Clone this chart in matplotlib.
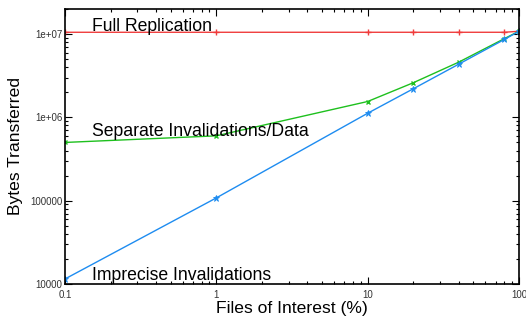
import matplotlib
matplotlib.use("Agg")
import matplotlib.pyplot as plt
from matplotlib.ticker import LogLocator, NullFormatter, FixedLocator, FixedFormatter

plt.rcParams['font.family'] = ['Liberation Sans', 'DejaVu Sans']

files_pct = [0.1, 1, 10, 20, 40, 80, 100]
full_repl = [1.05e7, 1.05e7, 1.05e7, 1.05e7, 1.05e7, 1.05e7, 1.08e7]
separate = [5.0e5, 6.0e5, 1.55e6, 2.6e6, 4.6e6, 8.8e6, 1.08e7]
imprecise = [1.15e4, 1.08e5, 1.12e6, 2.2e6, 4.35e6, 8.6e6, 1.08e7]

x_ticks = [0.1, 1, 10, 100]
x_tick_labels = ['0.1', '1', '10', '100']
y_ticks = [1e4, 1e5, 1e6, 1e7]
y_tick_labels = ['10000', '100000', '1e+06', '1e+07']

fig = plt.figure(figsize=(5.26, 3.2), dpi=100)
ax = fig.add_axes([0.1236, 0.1125, 0.863, 0.8595])

ax.plot(files_pct, full_repl, color='#f03c3c', lw=1.0, marker='+', ms=4, mew=1.0)
ax.plot(files_pct, separate, color='#1ec01e', lw=1.0, marker='x', ms=3.5, mew=1.0)
ax.plot(files_pct, imprecise, color='#1e8cf0', lw=1.0, marker='*', ms=4.5, mew=0.6)

ax.set_xscale('log')
ax.set_yscale('log')
ax.set_xlim(0.1, 100)
ax.set_ylim(1e4, 2e7)

ax.xaxis.set_major_locator(FixedLocator(x_ticks))
ax.xaxis.set_major_formatter(FixedFormatter(x_tick_labels))
ax.yaxis.set_major_locator(FixedLocator(y_ticks))
ax.yaxis.set_major_formatter(FixedFormatter(y_tick_labels))
ax.xaxis.set_minor_locator(LogLocator(base=10, subs=range(2, 10)))
ax.yaxis.set_minor_locator(LogLocator(base=10, subs=range(2, 10)))
ax.xaxis.set_minor_formatter(NullFormatter())
ax.yaxis.set_minor_formatter(NullFormatter())

ax.tick_params(which='both', direction='in', top=True, right=True, labelsize=7,
               labelcolor='#333333', width=0.8)
ax.tick_params(which='major', length=5)
ax.tick_params(which='minor', length=2.5)
ax.tick_params(axis='x', pad=4)
ax.tick_params(axis='y', pad=2)
for s in ax.spines.values():
    s.set_linewidth(1.2)

ax.set_xlabel('Files of Interest (%)', fontsize=12.6, labelpad=1)
ax.set_ylabel('Bytes Transferred', fontsize=12.6, labelpad=5)

ax.text(0.15, 1.09e7, 'Full Replication', fontsize=12.7, va='baseline')
ax.text(0.15, 5.9e5, 'Separate Invalidations/Data', fontsize=12.7, va='baseline')
ax.text(0.15, 1.12e4, 'Imprecise Invalidations', fontsize=12.7, va='baseline')

fig.savefig('out.png', dpi=100)
